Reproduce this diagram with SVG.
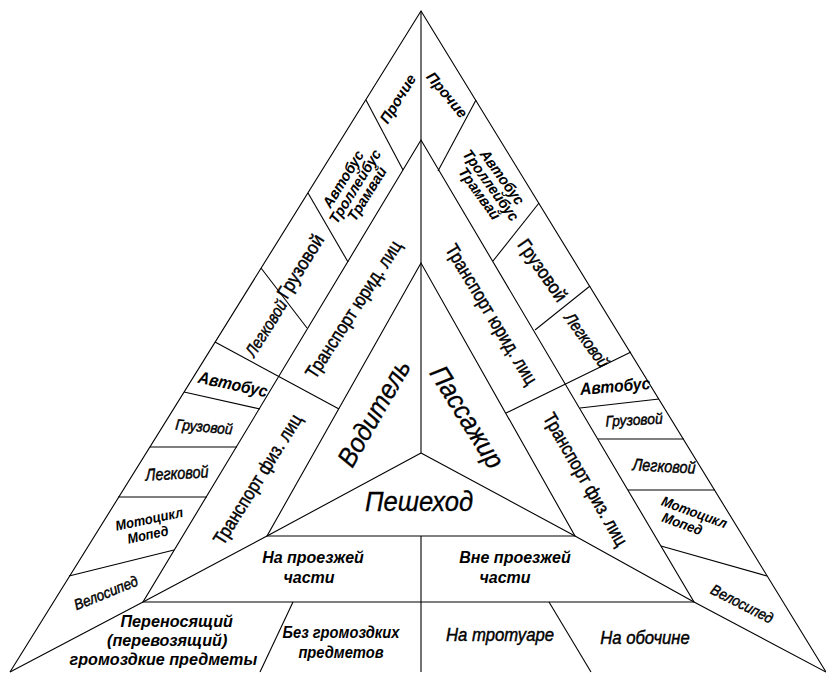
<svg xmlns="http://www.w3.org/2000/svg" width="826" height="673" viewBox="0 0 826 673">
<style>
.ln{fill:none;stroke:#000;stroke-width:1.1}
text{font-family:"Liberation Sans",Arial,sans-serif;fill:#000;text-anchor:middle}
.it{font-style:italic}
.b{font-weight:bold}
.th{stroke:#000;stroke-width:0.45}
.s13{font-size:13px}
.s14{font-size:14px}
.s15{font-size:15px}
.s16{font-size:16px}
.s17{font-size:17px}
.s19{font-size:19px}
.big{font-size:27px;font-style:italic;stroke:#000;stroke-width:0.3}
</style>
<rect width="826" height="673" fill="#fff"/>
<g id="connectors" class="ln">
<path d="M10,672 L421,11 L826,672"/>
<path d="M421,11 V453"/>
<path d="M421,453 L267,536 L143,602 L10,672"/>
<path d="M421,453 L575,536 L694,602 L826,672"/>
<path d="M421,140 L143,602 L694,602 Z"/>
<path d="M421,263 L267,536 L575,536 Z"/>
<path d="M421,536 V672"/>
<path d="M293,602 L260,672"/>
<path d="M549,602 L591,672"/>
<path d="M366,100 L403,170"/>
<path d="M308,193 L348,262"/>
<path d="M261,268 L307,328"/>
<path d="M215,342 L339,409"/>
<path d="M184,392 L260,409"/>
<path d="M150,447 L237,447"/>
<path d="M118,497 L207,497"/>
<path d="M69,576 L174,550"/>
<path d="M476,100 L438,171"/>
<path d="M539,203 L493,261"/>
<path d="M590,286 L535,330"/>
<path d="M631,352 L506,413"/>
<path d="M580,408 L659,399"/>
<path d="M598,439 L684,439"/>
<path d="M628,490 L715,490"/>
<path d="M661,546 L767,576"/>
</g>
<g id="inner">
<g id="n-driver"><text class="big" transform="translate(374,413) rotate(-60) scale(0.92,1)" dy="9">Водитель</text></g>
<g id="n-passenger"><text class="big" transform="translate(467,417) rotate(58) scale(0.92,1)" dy="9">Пассажир</text></g>
<g id="n-pedestrian"><text class="big" transform="translate(419,511) scale(0.95,1)">Пешеход</text></g>
</g>
<g id="middle">
<g id="n-l-jur"><text class="s19 th" transform="translate(353,309) rotate(-57) scale(0.86,1)" dy="7">Транспорт юрид. лиц</text></g>
<g id="n-l-phys"><text class="s19 th" transform="translate(257,479) rotate(-58) scale(0.86,1)" dy="7">Транспорт физ. лиц</text></g>
<g id="n-r-jur"><text class="s19 th" transform="translate(492,314) rotate(59) scale(0.86,1)" dy="7">Транспорт юрид. лиц</text></g>
<g id="n-r-phys"><text class="s19 th" transform="translate(586,479) rotate(60) scale(0.86,1)" dy="7">Транспорт физ. лиц</text></g>
<g id="n-road"><text class="it b s16" x="313" y="563">На проезжей<tspan x="309" dy="20">части</tspan></text></g>
<g id="n-offroad"><text class="it b s16" x="515" y="563">Вне проезжей<tspan x="505" dy="20">части</tspan></text></g>
</g>
<g id="outer-left">
<g id="n-l-other"><text class="it b s15" transform="translate(398,99) rotate(-58)" dy="5">Прочие</text></g>
<g id="n-l-bus3"><text class="it b s15" transform="translate(356,187) rotate(-58) scale(0.95,1)"><tspan x="0" dy="-10">Автобус</tspan><tspan x="0" dy="14">Троллейбус</tspan><tspan x="0" dy="14">Трамвай</tspan></text></g>
<g id="n-l-truck"><text class="s19 th" transform="translate(300,266) rotate(-58) scale(0.9,1)" dy="7">Грузовой</text></g>
<g id="n-l-car"><text class="it s17 th" transform="translate(266,328) rotate(-58) scale(0.85,1)" dy="6">Легковой</text></g>
<g id="n-l-bus"><text class="it b s17" transform="translate(233,384) rotate(12) scale(0.92,1)" dy="6">Автобус</text></g>
<g id="n-l-truck2"><text class="it s15 th" transform="translate(204,427) rotate(5) scale(0.92,1)" dy="5">Грузовой</text></g>
<g id="n-l-car2"><text class="it s17 th" transform="translate(177,473) rotate(-3) scale(0.85,1)" dy="6">Легковой</text></g>
<g id="n-l-moto"><text class="it b s14" transform="translate(149,527) rotate(-12) scale(0.92,1)"><tspan x="2" dy="-3">Мотоцикл</tspan><tspan x="-3" dy="15">Мопед</tspan></text></g>
<g id="n-l-bike"><text class="it s15 th" transform="translate(106,593) rotate(-22) scale(0.9,1)" dy="5">Велосипед</text></g>
</g>
<g id="outer-right">
<g id="n-r-other"><text class="it b s15" transform="translate(447,95) rotate(50)" dy="5">Прочие</text></g>
<g id="n-r-bus3"><text class="it b s15" transform="translate(490,186) rotate(54) scale(0.95,1)"><tspan x="0" dy="-10">Автобус</tspan><tspan x="0" dy="14">Троллейбус</tspan><tspan x="0" dy="14">Трамвай</tspan></text></g>
<g id="n-r-truck"><text class="s19 th" transform="translate(543,270) rotate(55) scale(0.9,1)" dy="7">Грузовой</text></g>
<g id="n-r-car"><text class="it s17 th" transform="translate(587,340) rotate(54) scale(0.85,1)" dy="6">Легковой</text></g>
<g id="n-r-bus"><text class="it b s17" transform="translate(615,386) rotate(-5) scale(0.92,1)" dy="6">Автобус</text></g>
<g id="n-r-truck2"><text class="it s15 th" transform="translate(634,420) rotate(-3) scale(0.92,1)" dy="5">Грузовой</text></g>
<g id="n-r-car2"><text class="it s17 th" transform="translate(664,466) rotate(3) scale(0.85,1)" dy="6">Легковой</text></g>
<g id="n-r-moto"><text class="it b s14" transform="translate(690,519) rotate(20) scale(0.92,1)"><tspan x="2" dy="-3">Мотоцикл</tspan><tspan x="-6" dy="15">Мопед</tspan></text></g>
<g id="n-r-bike"><text class="it s15 th" transform="translate(742,604) rotate(27) scale(0.9,1)" dy="5">Велосипед</text></g>
</g>
<g id="bottom">
<g id="n-carrying"><text class="it b s17" transform="scale(0.95,1)" x="186" y="627">Переносящий<tspan x="176" dy="19">(перевозящий)</tspan><tspan x="172" dy="19">громоздкие предметы</tspan></text></g>
<g id="n-without"><text class="it b s16" transform="translate(341,0) scale(0.92,1)" x="0" y="638">Без громоздких<tspan x="0" dy="20">предметов</tspan></text></g>
<g id="n-sidewalk"><text class="it s19 th" transform="translate(500,641) scale(0.88,1)">На тротуаре</text></g>
<g id="n-shoulder"><text class="it s19 th" transform="translate(645,644) scale(0.88,1)">На обочине</text></g>
</g>
</svg>
